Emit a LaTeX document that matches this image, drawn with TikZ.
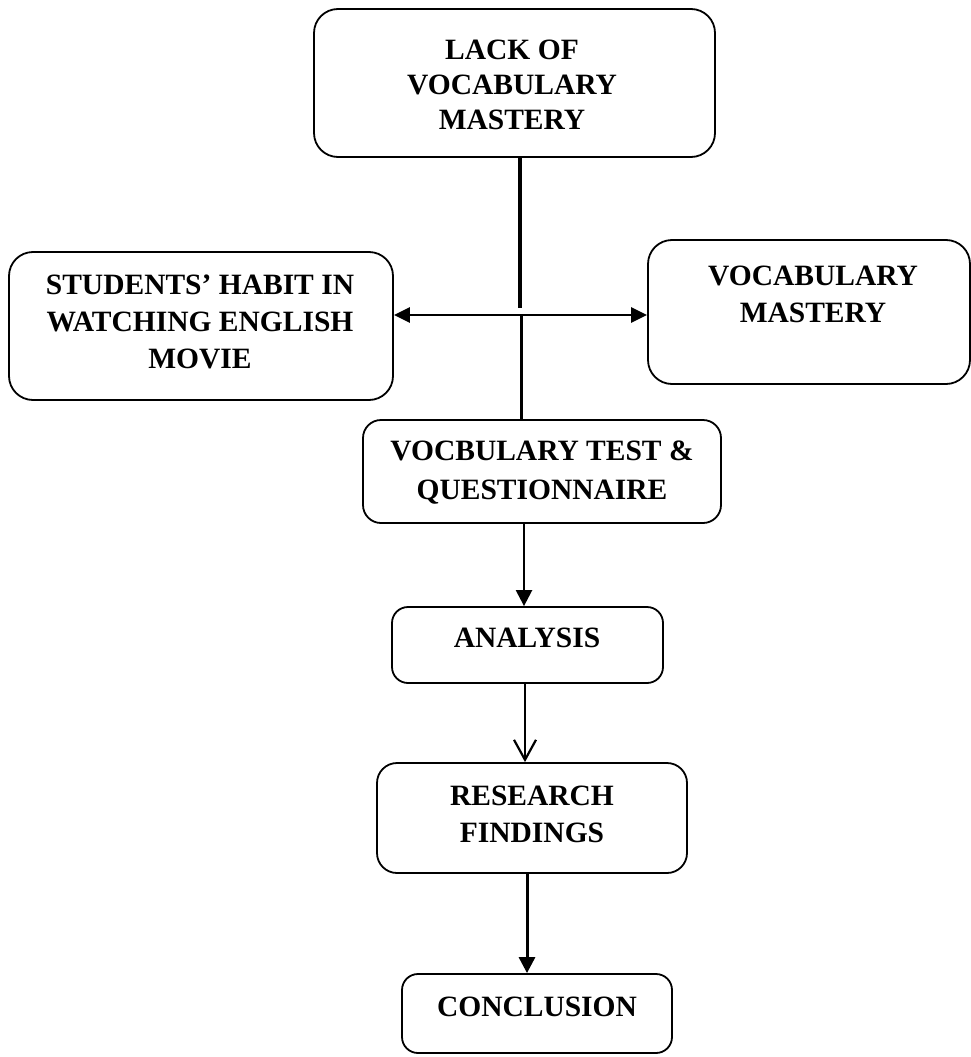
\documentclass[tikz,border=0pt]{standalone}
\usepackage{fontspec}
\setmainfont{Liberation Serif}
\usetikzlibrary{arrows.meta,calc}
\begin{document}
\begin{tikzpicture}[x=1pt,y=1pt,
  box/.style={draw=black,line width=1.8pt,rounded corners=24pt,inner sep=0pt},
  lbl/.style={font=\fontsize{29.5}{37}\selectfont\bfseries,align=center,inner sep=0pt},
  conn/.style={draw=black,line width=2.4pt},
  tri/.style={-{Triangle[length=16pt,width=16pt]}}
]
\useasboundingbox (0,0) rectangle (971,-1057);
% boxes
\node[box,minimum width=401pt,minimum height=148pt] (lack) at (514.5,-83) {};
\node[box,minimum width=384pt,minimum height=148pt] (stud) at (201,-326) {};
\node[box,minimum width=322pt,minimum height=144pt] (vm) at (809,-312) {};
\node[box,minimum width=358pt,minimum height=103pt,rounded corners=18pt] (test) at (542,-471.5) {};
\node[box,minimum width=271pt,minimum height=76pt,rounded corners=16pt] (ana) at (527.5,-645) {};
\node[box,minimum width=310pt,minimum height=110pt,rounded corners=20pt] (res) at (532,-818) {};
\node[box,minimum width=270pt,minimum height=79pt,rounded corners=16pt] (con) at (537,-1013.5) {};
% labels
\node[lbl,font=\fontsize{29.5}{35}\selectfont\bfseries] (lackT) at (512,-85) {LACK OF\\VOCABULARY\\MASTERY};
\node[lbl] (studT) at (200,-322) {STUDENTS’ HABIT IN\\WATCHING ENGLISH\\MOVIE};
\node[lbl] (vmT) at (813,-294) {VOCABULARY\\MASTERY};
\node[lbl,font=\fontsize{29.5}{39}\selectfont\bfseries] (testT) at (542,-473) {VOCBULARY TEST \&\\QUESTIONNAIRE};
\node[lbl] (anaT) at (527,-638) {ANALYSIS};
\node[lbl] (resT) at (532,-814) {RESEARCH\\FINDINGS};
\node[lbl] (conT) at (537,-1007) {CONCLUSION};
% junction coordinates
\coordinate (j1) at (520,-308);
\coordinate (j2) at (521,-315);
\coordinate (a1) at (524,0);
\coordinate (a2) at (525,0);
\coordinate (a3) at (527,0);
% connectors
\draw[conn,line width=3.5pt] (lack.south -| j1) -- (j1);
\draw[conn,line width=3pt] (j2) -- (test.north -| j2);
\draw[conn,{Triangle[length=16pt,width=15pt]}-{Triangle[length=16pt,width=15pt]}] (stud.east |- j2) -- (vm.west |- j2);
\draw[conn,tri] (test.south -| a1) -- (ana.north -| a1);
\draw[conn,-{Straight Barb[length=20pt,width=22pt,line width=2.2pt]}] (ana.south -| a2) -- (res.north -| a2);
\draw[conn,line width=3pt,tri] (res.south -| a3) -- (con.north -| a3);
\end{tikzpicture}
\end{document}
